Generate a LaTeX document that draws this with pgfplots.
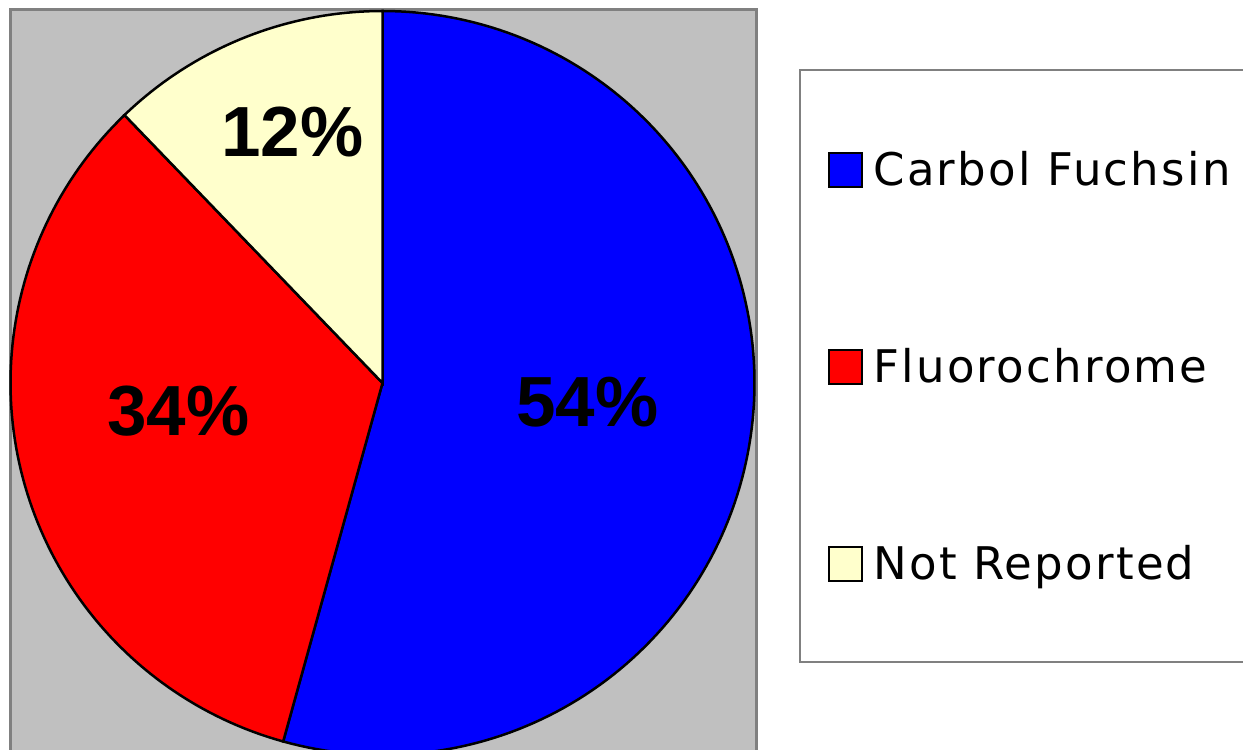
\documentclass[border=0pt]{standalone}
\usepackage{pgfplots}
\pgfplotsset{compat=1.18}
\usepackage{fontspec}
\setmainfont{Liberation Sans}
\newfontfamily\legendfont[LetterSpace=5]{DejaVu Sans}
\definecolor{cfblue}{RGB}{0,0,255}
\definecolor{flred}{RGB}{255,0,0}
\definecolor{nryellow}{RGB}{255,255,204}
\definecolor{bggray}{RGB}{192,192,192}
\definecolor{framegray}{RGB}{128,128,128}
% shares in percent
\def\pA{54.3}% Carbol Fuchsin
\def\pB{33.5}% Fluorochrome
\def\pC{12.2}% Not Reported
\begin{document}
\begin{tikzpicture}
\pgfmathsetmacro\aA{90}
\pgfmathsetmacro\aB{90-3.6*\pA}
\pgfmathsetmacro\aC{\aB-3.6*\pB}
\pgfmathsetmacro\aD{\aC-3.6*\pC}
\begin{axis}[
  width=1243pt, height=750pt, scale only axis,
  xmin=0, xmax=1243, ymin=0, ymax=750,
  hide axis, clip=false,
  legend cell align=left,
  legend image code/.code={\draw[#1, draw=black, line width=1.5pt] (0pt,-1pt) rectangle (33pt,33pt);},
  legend style={at={(axis cs:828,598)}, anchor=north west, draw=none, fill=none,
    inner sep=0pt, outer sep=0pt, row sep=153pt, column sep=11pt,
    nodes={inner sep=0pt, text height=34pt, text depth=10pt, anchor=base west,
      font=\fontsize{45}{50}\selectfont\legendfont}},
]
% plot area
\draw[framegray, fill=bggray, line width=3pt] (10,-30) rectangle (756,740);
% legend frame
\draw[framegray, line width=1.5pt, fill=white] (800,88) rectangle (1300,680);
\addplot[fill=cfblue, draw=black, line width=2.5pt, domain=\aB:\aA, samples=150]
  ({382.5+372*cos(x)},{367+372*sin(x)}) -- (382.5,367) -- cycle;
\addlegendentry{Carbol Fuchsin}
\addplot[fill=flred, draw=black, line width=2.5pt, domain=\aC:\aB, samples=100]
  ({382.5+372*cos(x)},{367+372*sin(x)}) -- (382.5,367) -- cycle;
\addlegendentry{Fluorochrome}
\addplot[fill=nryellow, draw=black, line width=2.5pt, domain=\aD:\aC, samples=40]
  ({382.5+372*cos(x)},{367+372*sin(x)}) -- (382.5,367) -- cycle;
\addlegendentry{Not Reported}
\node[anchor=base, font=\fontsize{71}{80}\selectfont\bfseries] at (292.5,593) {12\%};
\node[anchor=base, font=\fontsize{71}{80}\selectfont\bfseries] at (178.5,314) {34\%};
\node[anchor=base, font=\fontsize{71}{80}\selectfont\bfseries] at (587.5,323) {54\%};
\end{axis}
\pgfresetboundingbox
\path (current axis.south west) rectangle (current axis.north east);
\end{tikzpicture}
\end{document}
